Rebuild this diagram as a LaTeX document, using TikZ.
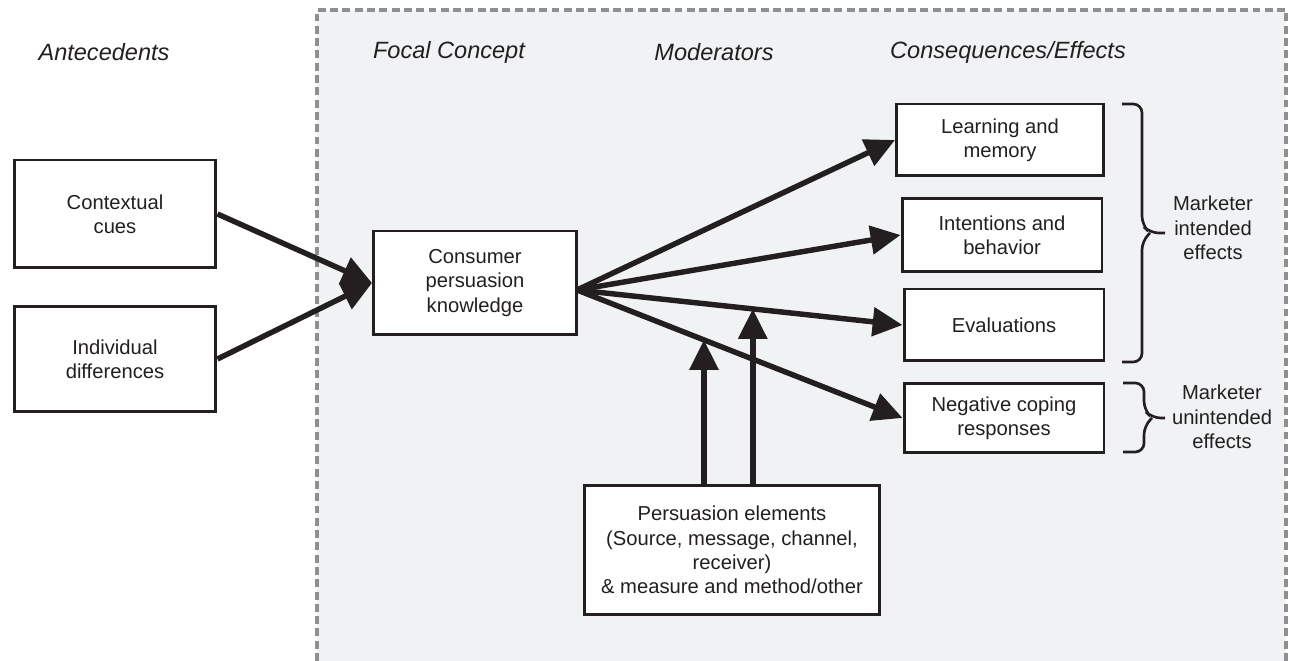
\documentclass[tikz,border=0pt]{standalone}
\usepackage{fontspec}
\setmainfont{Liberation Sans}
\usetikzlibrary{calc,arrows.meta,positioning}
\definecolor{panel}{HTML}{F1F2F4}
\definecolor{rim}{HTML}{8E8F92}
\definecolor{ink}{HTML}{231F20}

\begin{document}
\begin{tikzpicture}[x=0.02cm, y=-0.02cm, color=ink,
    box/.style={draw, line width=1.7pt, fill=white, minimum width=4cm, minimum height=1.44cm,
      align=center, inner sep=2pt, font=\fontsize{11.5}{13.8}\selectfont},
    head/.style={font=\itshape\fontsize{13.4}{15}\selectfont},
    side/.style={align=center, font=\fontsize{11.5}{13.8}\selectfont},
    link/.style={-{Triangle[length=17pt,width=16pt]}, line width=3.1pt},
    curly/.style={line width=1.5pt, rounded corners=5pt}]

  \useasboundingbox (0,0) rectangle (1290,661);

  % dashed panel
  \fill[panel] (317,10) rectangle (1286,661);
  \draw[rim, line width=2pt, dash pattern=on 4.5pt off 2.5pt] (317,661) |- (1286,10) -- (1286,661);

  % column titles
  \node[head] (tant) at (104,52) {Antecedents};
  \node[head] (tfoc) at (449,52) {Focal Concept};
  \node[head] (tmod) at (714,52) {Moderators};
  \node[head] (tcon) at (1008,52) {Consequences/Effects};

  % antecedents
  \node[box, minimum width=4.04cm, minimum height=2.16cm] (ctx) at (115,214) {Contextual\\cues};
  \node[box, minimum width=4.04cm, minimum height=2.12cm] (ind) at (115,359) {Individual\\differences};

  % focal concept
  \node[box, minimum width=4.06cm, minimum height=2.08cm] (cpk) at (475,283) {Consumer\\persuasion\\knowledge};

  % effects
  \node[box, minimum width=4.14cm] (learn) at (1000,140) {Learning and\\memory};
  \node[box, minimum height=1.46cm] (intent) at (1002,235) {Intentions and\\behavior};
  \node[box] (eval) at (1004,325) {Evaluations};
  \node[box, minimum height=1.38cm] (neg) at (1004,418) {Negative coping\\responses};

  % moderators
  \node[box, minimum width=5.9cm, minimum height=2.58cm] (pe) at (732,550)
    {Persuasion elements\\(Source, message, channel,\\receiver)\\\& measure and method/other};

  % arrows
  \draw[link] (ctx.east) -- (cpk.west);
  \draw[link] (ind.east) -- (cpk.west);

  \coordinate (hub) at (577,290);
  \draw[link] (hub) -- (learn.west);
  \draw[link] (hub) -- (intent.west);
  \draw[link] (hub) -- (eval.west);
  \draw[link] (hub) -- (neg.west);

  \coordinate (m1) at ($(hub)!0.39!(neg.west)$);
  \coordinate (m2) at ($(hub)!0.54!(eval.west)$);
  \draw[link] (m1 |- pe.north) -- (m1);
  \draw[link] (m2 |- pe.north) -- (m2);

  % braces
  \draw[curly] (1122,104) -| (1142,225) -- (1150,233) -- (1165,233);
  \draw[curly] (1122,362) -| (1142,241) -- (1150,233);
  \node[side] (intd) at (1213,228) {Marketer\\intended\\effects};

  \draw[curly] (1123,383) -| (1144,410) -- (1152,418) -- (1165,418);
  \draw[curly] (1123,452) -| (1144,426) -- (1152,418);
  \node[side] (unint) at (1222,417) {Marketer\\unintended\\effects};
\end{tikzpicture}
\end{document}
